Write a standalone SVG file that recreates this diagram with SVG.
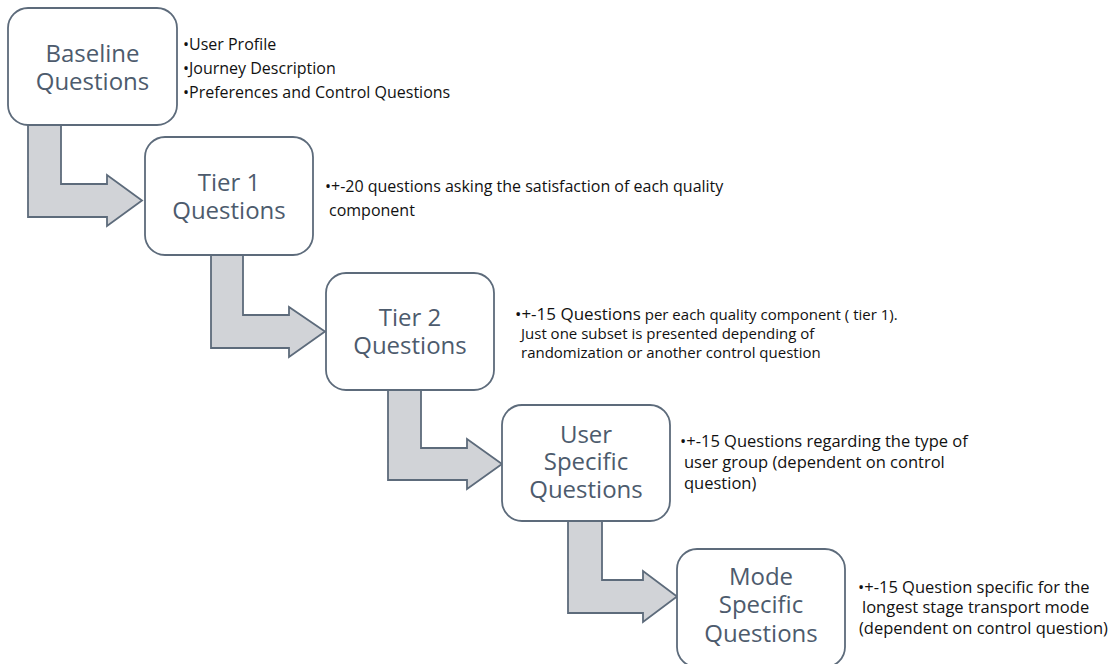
<svg xmlns="http://www.w3.org/2000/svg" width="1119" height="664" viewBox="0 0 1119 664">
<style>
.box{fill:#ffffff;stroke:#5d6b7b;stroke-width:1.8}
.arr{fill:#d1d3d7;stroke:#5d6b7b;stroke-width:1.8;stroke-linejoin:miter}
.bt{font-family:"Open Sans","Noto Sans",sans-serif;font-size:24px;fill:#4d5b6d;text-anchor:middle}
.dt{font-family:"Open Sans","Noto Sans",sans-serif;font-size:16px;fill:#111111}
.d2{font-family:"Open Sans","Noto Sans",sans-serif;font-size:15px;fill:#111111}
.d3{font-family:"Open Sans","Noto Sans",sans-serif;font-size:16.5px;fill:#111111}
</style>
<rect width="1119" height="664" fill="#ffffff"/>
<g id="connectors">
<polygon class="arr" points="28,124 61,124 61,184 107,184 107,175 142,200.5 107,226 107,217 28,217"/>
<polygon class="arr" points="211,254 243,254 243,315 289,315 289,307 325,331.5 289,357 289,348 211,348"/>
<polygon class="arr" points="388,389 421,389 421,448 467,448 467,439 502,464 467,489 467,480 388,480"/>
<polygon class="arr" points="568,520 602,520 602,580 643,580 643,571 677,596.5 643,622 643,613 568,613"/>
</g>
<g id="baseline">
<rect class="box" x="8" y="8" width="169" height="117" rx="20"/>
<text class="bt" x="92.5" y="62">Baseline</text>
<text class="bt" x="92.5" y="90">Questions</text>
<text class="dt" x="183" y="50">•User Profile</text>
<text class="dt" x="183" y="74">•Journey Description</text>
<text class="dt" x="183" y="98">•Preferences and Control Questions</text>
</g>
<g id="tier1">
<rect class="box" x="145" y="137" width="168" height="118" rx="20"/>
<text class="bt" x="229" y="191">Tier 1</text>
<text class="bt" x="229" y="219">Questions</text>
<text class="dt" x="325" y="192">•+-20 questions asking the satisfaction of each quality</text>
<text class="dt" x="329" y="216">component</text>
</g>
<g id="tier2">
<rect class="box" x="326" y="273" width="168" height="117" rx="20"/>
<text class="bt" x="410" y="326">Tier 2</text>
<text class="bt" x="410" y="354">Questions</text>
<text class="d2" x="515" y="320"><tspan font-size="17">•+-15 Questions</tspan> per each quality component ( tier 1).</text>
<text class="d2" x="521" y="339">Just one subset is presented depending of</text>
<text class="d2" x="521" y="358">randomization or another control question</text>
</g>
<g id="user">
<rect class="box" x="502" y="405" width="168" height="116" rx="20"/>
<text class="bt" x="586" y="443">User</text>
<text class="bt" x="586" y="470">Specific</text>
<text class="bt" x="586" y="498">Questions</text>
<text class="d3" x="680" y="447">•+-15 Questions regarding the type of</text>
<text class="d3" x="684" y="468">user group (dependent on control</text>
<text class="d3" x="684" y="489">question)</text>
</g>
<g id="mode">
<rect class="box" x="677" y="549" width="168" height="118" rx="20"/>
<text class="bt" x="761" y="585">Mode</text>
<text class="bt" x="761" y="613">Specific</text>
<text class="bt" x="761" y="642">Questions</text>
<text class="d3" x="858" y="593">•+-15 Question specific for the</text>
<text class="d3" x="862" y="613">longest stage transport mode</text>
<text class="d3" x="859" y="634">(dependent on control question)</text>
</g>
</svg>
